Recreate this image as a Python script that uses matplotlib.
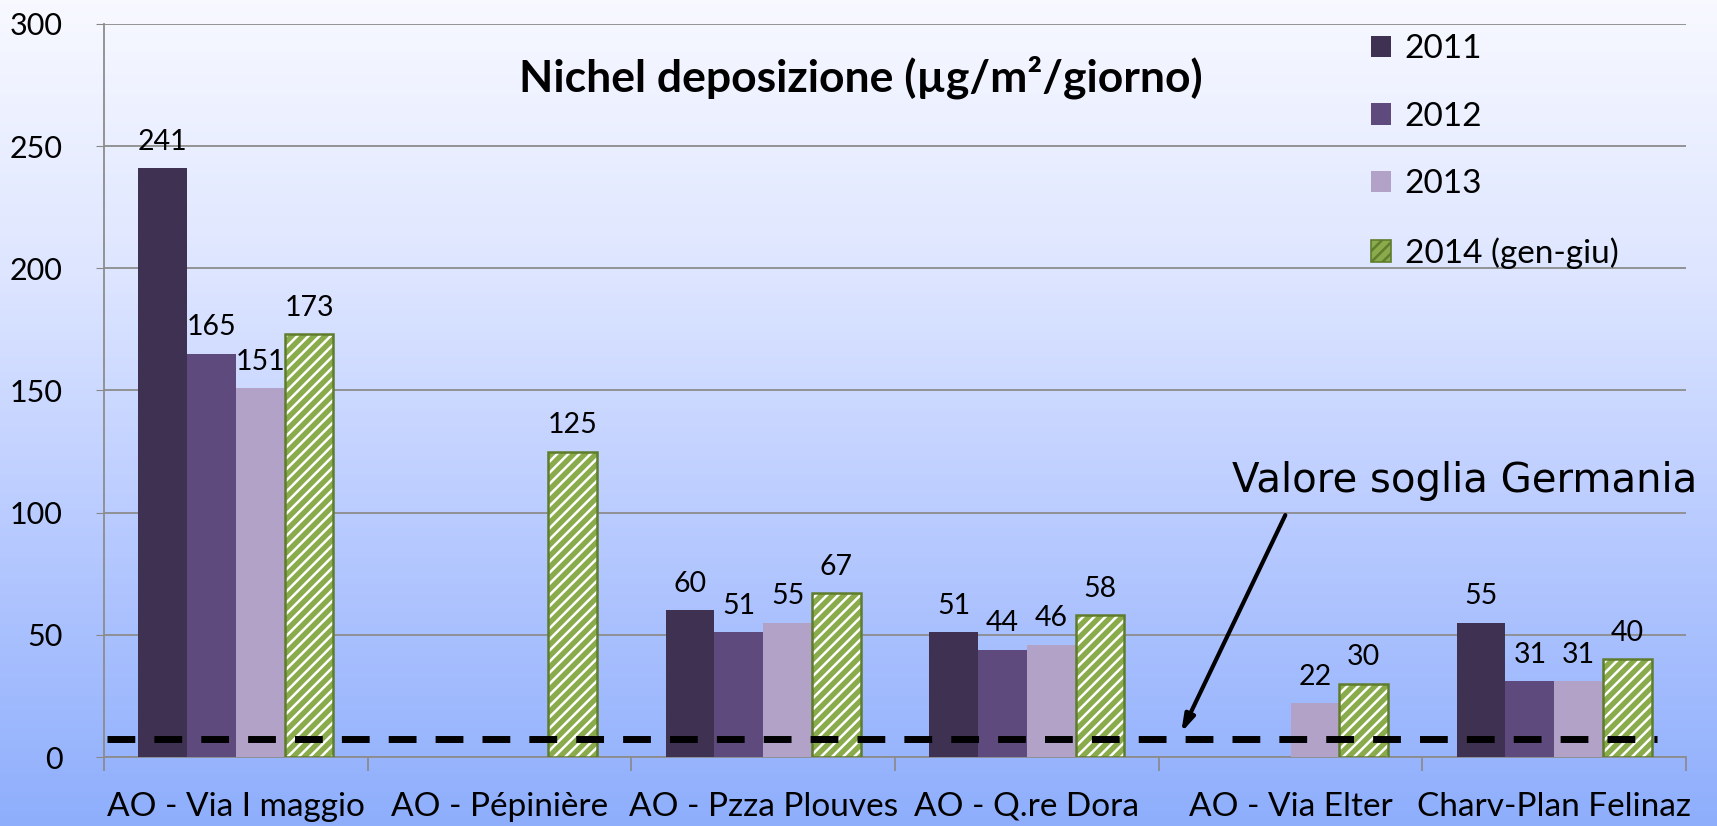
import numpy as np
import matplotlib
matplotlib.use("Agg")
import matplotlib.pyplot as plt
from matplotlib.colors import LinearSegmentedColormap
from matplotlib.patches import Patch

# === Data ===
stations = ["AO - Via I maggio", "AO - Pépinière", "AO - Pzza Plouves",
            "AO - Q.re Dora", "AO - Via Elter", "Charv-Plan Felinaz"]
v2011 = [241, None, 60, 51, None, 55]
v2012 = [165, None, 51, 44, None, 31]
v2013 = [151, None, 55, 46, 22, 31]
v2014 = [173, 125, 67, 58, 30, 40]
series_labels = ["2011", "2012", "2013", "2014 (gen-giu)"]
soglia_germania = 7.5

plt.rcParams['font.family'] = ['Lato', 'DejaVu Sans']
plt.rcParams['hatch.linewidth'] = 1.8

fig = plt.figure(figsize=(17.17, 8.26), dpi=100)

# gradient background over whole figure
bg = fig.add_axes([0, 0, 1, 1], zorder=-10)
cmap = LinearSegmentedColormap.from_list("bg", ["#f8f9ff", "#dde5ff", "#b5c8ff", "#8eaefc"])
bg.imshow(np.linspace(0, 1, 256).reshape(-1, 1), aspect="auto", cmap=cmap, extent=[0, 1, 0, 1])
bg.axis("off")

ax = fig.add_axes([0.0606, 0.0835, 0.9214, 0.8875])
ax.patch.set_alpha(0)

x = np.arange(len(stations))
w = 0.185
colors = ["#3f3152", "#5f4a7d", "#b3a2c7"]
green = "#8aab4c"
edge_green = "#5f7d2c"

def nums(vals):
    return np.array([np.nan if v is None else v for v in vals], dtype=float)

for i, (vals, c) in enumerate(zip([v2011, v2012, v2013], colors)):
    arr = nums(vals)
    pos = x + (i - 1.5) * w
    ax.bar(pos, arr, w, color=c, zorder=3)
    for p, v in zip(pos, arr):
        if not np.isnan(v):
            ax.text(p, v + 5.5, f"{int(v)}", ha="center", va="bottom", fontsize=20.5, zorder=5)

arr14 = nums(v2014)
pos14 = x + 1.5 * w
ax.bar(pos14, arr14, w, color=green, edgecolor="white", hatch="///", linewidth=0, zorder=3)
ax.bar(pos14, arr14, w, facecolor="none", edgecolor=edge_green, linewidth=1.8, zorder=4)
for p, v in zip(pos14, arr14):
    ax.text(p, v + 5.5, f"{int(v)}", ha="center", va="bottom", fontsize=20.5, zorder=5)

# threshold line
ax.plot([-0.49, 5.39], [soglia_germania, soglia_germania], color="black",
        linestyle=(0, (4, 2.75)), linewidth=5, zorder=6,
        dash_capstyle="butt", clip_on=False)

ax.text(4.66, 113, "Valore soglia Germania", ha="center", va="center", fontsize=29,
        family="DejaVu Sans", clip_on=False)
ax.annotate("", xy=(3.585, soglia_germania + 2.5), xytext=(3.98, 99),
            annotation_clip=False,
            arrowprops=dict(arrowstyle="-|>,head_width=0.3,head_length=1.0",
                            color="black", lw=3, shrinkA=0, shrinkB=0))

ax.text(2.37, 278, "Nichel deposizione (µg/m²/giorno)", ha="center", va="center",
        fontsize=32, fontweight="bold")

ax.set_xlim(-0.5, 5.5)
ax.set_ylim(0, 300)
ax.set_yticks(range(0, 301, 50))
ax.tick_params(axis="y", labelsize=22, length=6, color="#888888", pad=24)
ax.set_xticks(x)
ax.set_xticklabels(stations, fontsize=24)
ax.tick_params(axis="x", length=0, pad=25)
ax.set_xticks(np.arange(-0.5, 6, 1), minor=True)
ax.tick_params(axis="x", which="minor", length=10, color="#888888", width=1.2)

ax.grid(axis="y", color="#8c8c8c", linewidth=1.3, zorder=0)
ax.set_axisbelow(True)
for s in ["top", "right"]:
    ax.spines[s].set_visible(False)
for s in ["left", "bottom"]:
    ax.spines[s].set_color("#8c8c8c")
    ax.spines[s].set_linewidth(1.3)

handles = [Patch(facecolor=c) for c in colors]
handles.append(Patch(facecolor=green, edgecolor=edge_green, hatch="///", linewidth=1.2))
leg = ax.legend(handles, series_labels, loc="upper left", bbox_to_anchor=(0.782, 1.027),
                frameon=False, fontsize=24, labelspacing=1.13, handlelength=0.6,
                handleheight=0.6, handletextpad=0.4)

fig.savefig("out.png", dpi=100)
